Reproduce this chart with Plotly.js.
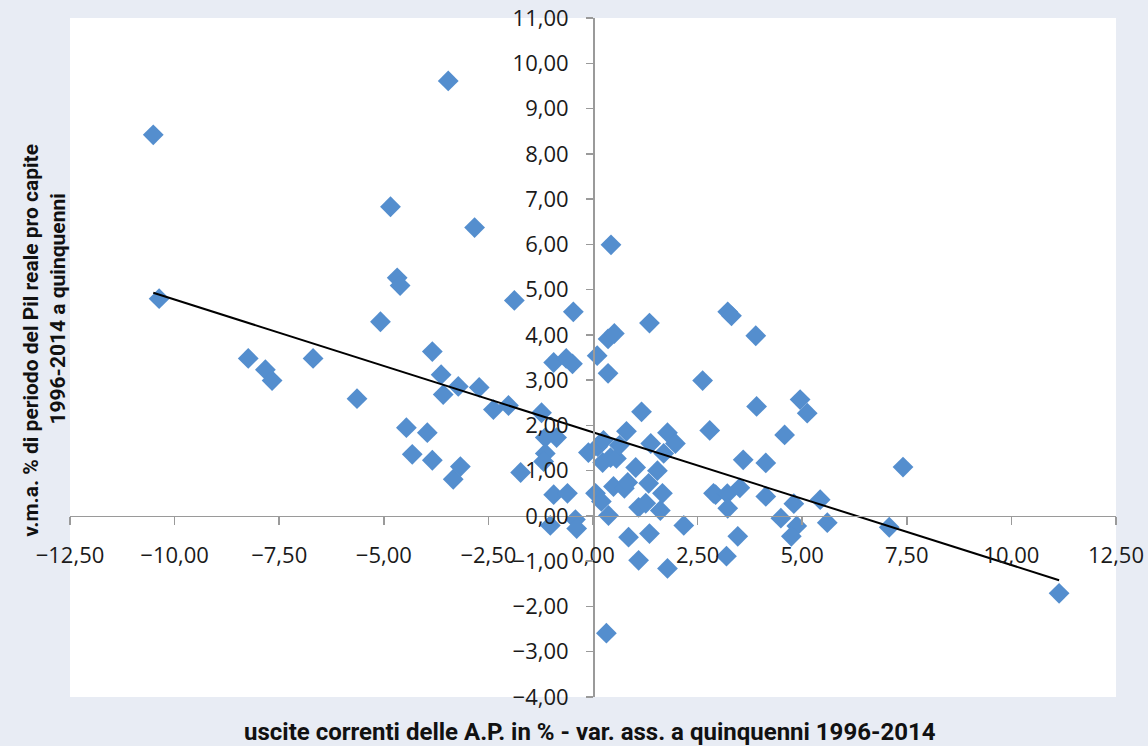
<!DOCTYPE html>
<html>
<head>
<meta charset="utf-8">
<script src="https://cdn.plot.ly/plotly-3.0.1.min.js"></script>
<style>
html,body{margin:0;padding:0;background:#E8ECF4;}
#chart{width:1148px;height:746px;}
</style>
</head>
<body>
<div id="chart"></div>
<script>
// uscite correnti delle A.P. in % - var. ass. a quinquenni (x)
const spesaVar = [
 -10.51,-10.37,-8.24,-7.83,-7.67,-6.69,-5.64,-5.08,-4.84,-4.68,
 -4.61,-4.46,-4.32,-3.96,-3.84,-3.84,-3.63,-3.58,-3.46,-3.22,
 -3.34,-3.17,-2.83,-2.72,-2.38,-2.02,-1.88,-1.73,-1.23,-1.14,
 -0.87,-1.14,-1.18,-0.94,-0.61,-1.02,-0.42,-0.39,-0.47,-0.94,
 -0.64,-0.49,0.10,0.36,0.51,0.36,1.35,0.43,3.22,3.31,
 3.89,2.62,1.16,3.91,4.95,5.12,2.79,4.58,-0.11,0.11,
 0.25,0.23,0.42,0.56,0.63,0.80,0.06,0.20,0.37,0.49,
 0.75,0.83,1.02,1.38,1.78,1.69,1.97,1.54,1.33,1.66,
 1.09,1.26,1.61,0.85,1.35,2.17,1.09,1.78,2.88,0.32,
 3.59,4.13,2.93,3.21,3.51,3.22,4.13,4.49,4.80,4.87,
 4.74,5.43,5.60,3.46,3.19,7.08,7.41,11.14
];
// v.m.a. % di periodo del Pil reale pro capite (y)
const pilVar = [
 8.42,4.80,3.48,3.23,2.99,3.48,2.59,4.29,6.83,5.26,
 5.09,1.95,1.36,1.84,1.23,3.63,3.12,2.68,9.61,2.86,
 0.81,1.09,6.37,2.84,2.35,2.44,4.76,0.96,2.28,1.73,
 1.73,1.38,1.20,0.47,0.50,-0.21,-0.08,-0.28,4.51,3.39,
 3.48,3.36,3.54,3.91,4.03,3.15,4.26,5.99,4.51,4.42,
 3.98,2.99,2.30,2.42,2.57,2.27,1.89,1.79,1.40,1.53,
 1.67,1.18,1.29,1.27,1.56,1.87,0.50,0.32,0.01,0.65,
 0.61,0.74,1.07,1.60,1.84,1.38,1.60,1.00,0.72,0.50,
 0.19,0.28,0.12,-0.47,-0.39,-0.21,-0.98,-1.16,0.50,-2.59,
 1.24,1.17,0.47,0.49,0.62,0.17,0.43,-0.05,0.27,-0.22,
 -0.45,0.36,-0.15,-0.45,-0.89,-0.25,1.08,-1.71
];
// linear trendline end points
const trendX = [-10.51, 11.14];
const trendY = [4.93, -1.42];

const xTitle = "uscite correnti delle A.P. in % - var. ass. a quinquenni 1996-2014";
const yTitleLine1 = "v.m.a. % di periodo del Pil reale pro capite";
const yTitleLine2 = "1996-2014 a quinquenni";

const tickFont = {family: "Open Sans, Noto Sans, sans-serif", size: 22, color: "#1a1a1a"};
const xTitleFont = {family: "Roboto, Open Sans, sans-serif", size: 24, color: "#111", weight: "bold"};
const yTitleFont = {family: "Roboto, Open Sans, sans-serif", size: 21, color: "#111", weight: "bold"};

const traces = [
  {
    x: spesaVar, y: pilVar, type: "scatter", mode: "markers",
    marker: {symbol: "diamond", size: 16, color: "rgb(84,142,206)", line: {width: 0}},
    hoverinfo: "x+y", showlegend: false, cliponaxis: false
  },
  {
    x: trendX, y: trendY, type: "scatter", mode: "lines",
    line: {color: "#000", width: 2}, hoverinfo: "skip", showlegend: false
  }
];

const layout = {
  width: 1148, height: 746,
  paper_bgcolor: "#E8ECF4", plot_bgcolor: "#FFFFFF",
  margin: {l: 70, r: 32, t: 18, b: 49},
  separators: ",.",
  showlegend: false,
  xaxis: {
    range: [-12.5, 12.5], tick0: 0, dtick: 2.5, tickformat: ".2f",
    anchor: "free", position: 4/15,
    showline: true, linecolor: "#9a9a9a", linewidth: 1.5,
    ticks: "outside", ticklen: 8, tickcolor: "#9a9a9a", tickwidth: 1.5,
    showgrid: false, zeroline: false,
    tickfont: tickFont, ticklabelstandoff: 11
  },
  yaxis: {
    range: [-4, 11], tick0: 0, dtick: 1, tickformat: ".2f",
    anchor: "free", position: 0.5,
    showline: true, linecolor: "#9a9a9a", linewidth: 1.5,
    ticks: "outside", ticklen: 7, tickcolor: "#9a9a9a", tickwidth: 1.5,
    showgrid: false, zeroline: false,
    tickfont: tickFont, ticklabelstandoff: 13
  },
  annotations: [
    {text: xTitle, xref: "paper", yref: "paper", x: 0.497, y: -0.052,
     xanchor: "center", yanchor: "middle", showarrow: false, font: xTitleFont},
    {text: yTitleLine1, xref: "paper", yref: "paper", x: -0.038, y: 0.525,
     xanchor: "center", yanchor: "middle", textangle: -90, showarrow: false,
     font: yTitleFont},
    {text: yTitleLine2, xref: "paper", yref: "paper", x: -0.0115, y: 0.572,
     xanchor: "center", yanchor: "middle", textangle: -90, showarrow: false,
     font: yTitleFont}
  ]
};

Plotly.newPlot("chart", traces, layout, {displayModeBar: false, staticPlot: true});
</script>
</body>
</html>
